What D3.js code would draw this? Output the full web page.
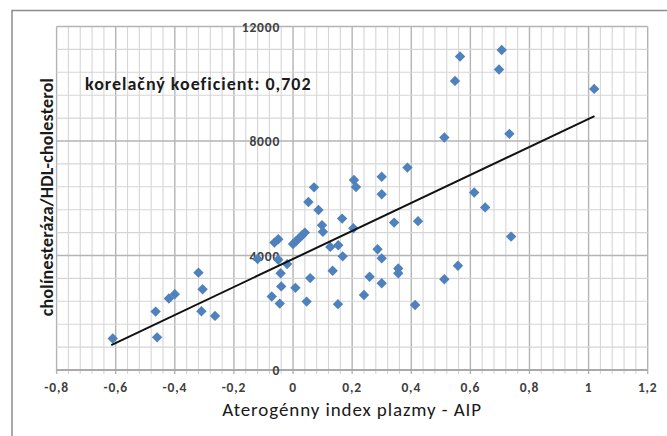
<!DOCTYPE html>
<html>
<head>
<meta charset="utf-8">
<script src="https://cdn.jsdelivr.net/npm/d3@7"></script>
<style>
  body { margin: 0; background: #fff; }
  svg { display: block; font-family: Carlito, Lato, "Open Sans", sans-serif; }
</style>
</head>
<body>
<svg id="chart" width="667" height="436"></svg>
<script>
// values
var aipValues = [-0.61, -0.465, -0.46, -0.42, -0.40, -0.32, -0.306, -0.31, -0.264, -0.12,
    -0.063, -0.05, -0.05, -0.02, -0.042, -0.04, -0.072, -0.045, 0.0, 0.01,
    0.02, 0.03, 0.04, 0.008, 0.046, 0.058, 0.071, 0.052, 0.086, 0.098,
    0.101, 0.126, 0.134, 0.153, 0.168, 0.152, 0.166, 0.204, 0.206, 0.213,
    0.24, 0.259, 0.286, 0.30, 0.30, 0.30, 0.30, 0.342, 0.356, 0.356,
    0.387, 0.413, 0.423, 0.512, 0.512, 0.548, 0.558, 0.565, 0.613, 0.65,
    0.697, 0.706, 0.732, 0.738, 1.019]
var ratioValues = [1100, 2040, 1140, 2500, 2650, 3400, 2820, 2050, 1890, 3880,
    4450, 4570, 3850, 3700, 3380, 2920, 2570, 2320, 4400, 4500,
    4600, 4700, 4800, 2870, 2390, 3210, 6380, 5870, 5590, 5060,
    4830, 4300, 3465, 4360, 3970, 2300, 5290, 4950, 6640, 6390,
    2620, 3260, 4220, 3900, 3030, 6140, 6750, 5150, 3550, 3380,
    7070, 2270, 5200, 3170, 8120, 10100, 3640, 10950, 6200, 5680,
    10500, 11180, 8250, 4660, 9820]
// trend line end points
var trendX = [-0.615, 1.02]
var trendY = [870, 8870]

var xTicks = [-0.8, -0.6, -0.4, -0.2, 0, 0.2, 0.4, 0.6, 0.8, 1, 1.2]
var yTicks = [0, 4000, 8000, 12000]
var corrLabel = "korelačný koeficient: 0,702"
var xTitle = "Aterogénny index plazmy - AIP"
var yTitle = "cholínesteráza/HDL-cholesterol"

var svg = d3.select("#chart")

var locale = d3.formatLocale({decimal: ",", thousands: "", grouping: [3], currency: ["", ""], minus: "-"})
var fmtX = locale.format("~g")
var fmtY = locale.format("d")

var x = d3.scaleLinear().domain([-0.8, 1.2]).range([56.6, 647.7])
var y = d3.scaleLinear().domain([0, 12000]).range([370, 26.5])

// outer frame
svg.append("path")
    .attr("d", "M12,440 L12,10.5 L670,10.5")
    .attr("fill", "none")
    .attr("stroke", "#8c8c8c")
    .attr("stroke-width", 1.5)

// grid
var minorX = d3.range(0, 51).map(i => -0.8 + i * 0.04)
var minorY = d3.range(0, 16).map(i => i * 800)
var grid = svg.append("g")

grid.selectAll(".vx")
    .data(minorX)
    .enter().append("line")
    .attr("x1", d => x(d)).attr("x2", d => x(d))
    .attr("y1", y(12000)).attr("y2", y(0) + 4)
    .attr("stroke", (d, i) => i % 5 == 0 ? "#b4b4b4" : "#d6d6d6")
    .attr("stroke-width", (d, i) => i % 5 == 0 ? 1.4 : 1.1)

grid.selectAll(".hy")
    .data(minorY)
    .enter().append("line")
    .attr("x1", x(-0.8)).attr("x2", x(1.2))
    .attr("y1", d => y(d)).attr("y2", d => y(d))
    .attr("stroke", (d, i) => i % 5 == 0 ? "#b4b4b4" : "#d6d6d6")
    .attr("stroke-width", (d, i) => i % 5 == 0 ? 1.4 : 1.1)

// x axis line
svg.append("line")
    .attr("x1", x(-0.8)).attr("x2", x(1.2))
    .attr("y1", y(0)).attr("y2", y(0))
    .attr("stroke", "#a0a0a0")
    .attr("stroke-width", 1.3)

// tick labels
svg.append("g").selectAll("text")
    .data(xTicks)
    .enter().append("text")
    .attr("x", d => x(d))
    .attr("y", 392)
    .attr("text-anchor", "middle")
    .attr("font-size", 13.5)
    .attr("font-weight", "bold")
    .attr("letter-spacing", 0.8)
    .attr("fill", "#404040")
    .text(d => fmtX(d))

svg.append("g").selectAll("text")
    .data(yTicks)
    .enter().append("text")
    .attr("x", x(0) - 13)
    .attr("y", d => y(d) + 5)
    .attr("text-anchor", "end")
    .attr("font-size", 13.5)
    .attr("font-weight", "bold")
    .attr("letter-spacing", 0.8)
    .attr("fill", "#404040")
    .text(d => fmtY(d))

// points
var points = aipValues.map((v, i) => ({x: v, y: ratioValues[i]}))
svg.append("g").selectAll("path")
    .data(points)
    .enter().append("path")
    .attr("d", d3.symbol(d3.symbolSquare, 54))
    .attr("transform", d => "translate(" + x(d.x) + "," + y(d.y) + ") rotate(45)")
    .attr("fill", "#4f81bd")

// trend line
svg.append("line")
    .attr("x1", x(trendX[0])).attr("y1", y(trendY[0]))
    .attr("x2", x(trendX[1])).attr("y2", y(trendY[1]))
    .attr("stroke", "#111")
    .attr("stroke-width", 2)

// annotation
svg.append("text")
    .attr("x", 85)
    .attr("y", 90)
    .attr("font-size", 18)
    .attr("font-weight", "bold")
    .attr("letter-spacing", 1)
    .attr("fill", "#1a1a1a")
    .text(corrLabel)

// axis titles
svg.append("text")
    .attr("x", x(0.2))
    .attr("y", 416)
    .attr("text-anchor", "middle")
    .attr("font-size", 19)
    .attr("letter-spacing", 0.9)
    .attr("fill", "#1a1a1a")
    .text(xTitle)

svg.append("text")
    .attr("transform", "translate(53,197) rotate(-90)")
    .attr("text-anchor", "middle")
    .attr("font-size", 18)
    .attr("font-weight", "bold")
    .attr("letter-spacing", 0.2)
    .attr("fill", "#1a1a1a")
    .text(yTitle)
</script>
</body>
</html>
